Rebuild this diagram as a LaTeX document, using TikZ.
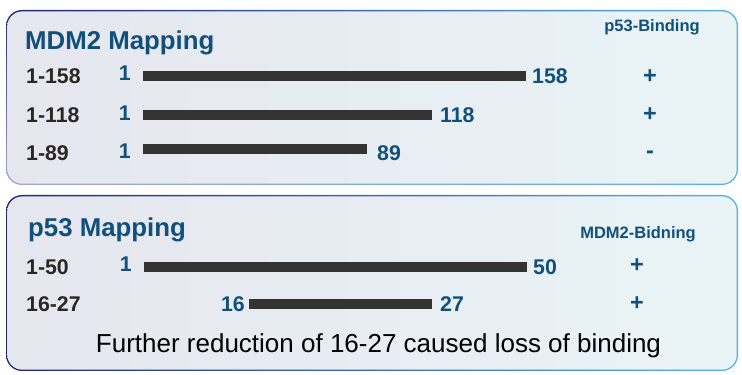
\documentclass[tikz,border=0pt]{standalone}
\usepackage{fontspec}
\setmainfont{Liberation Sans}
\usetikzlibrary{shadings}
\definecolor{ttl}{HTML}{11507A}
\definecolor{lbl}{HTML}{2A2724}
\definecolor{barc}{HTML}{333333}
\definecolor{bgl}{HTML}{E6E6EF}
\definecolor{bgr}{HTML}{E9F4F6}
\definecolor{navy}{HTML}{25257A}
\definecolor{lblue}{HTML}{5BB4E4}
\definecolor{lav}{HTML}{A8A8CC}
\tikzset{
  title/.style={font=\bfseries\fontsize{25.8}{25.8}\selectfont, text=ttl, anchor=west, inner sep=0pt},
  colhead/.style={font=\bfseries\fontsize{16.5}{16.5}\selectfont, text=ttl, anchor=center, inner sep=0pt},
  rowlbl/.style={font=\bfseries\fontsize{21.3}{21.3}\selectfont, text=lbl, anchor=west, inner sep=0pt},
  num/.style={font=\bfseries\fontsize{21.3}{21.3}\selectfont, text=ttl, inner sep=0pt},
  sign/.style={font=\bfseries\fontsize{23.5}{23.5}\selectfont, text=ttl, anchor=center, inner sep=0pt},
  barline/.style={draw=barc, line width=10pt},
}
\begin{document}
\begin{tikzpicture}[x=1pt,y=1pt]
\useasboundingbox (0,0) rectangle (742,375);
\fill[white] (0,0) rectangle (742,375);
% box 1
\shade[rounded corners=16pt, upper left=navy, upper right=lblue, lower left=lav, lower right=lblue] (6,190) rectangle (738,365);
\shade[rounded corners=15pt, left color=bgl, right color=bgr] (7.3,191.3) rectangle (736.7,363.6);
% box 2
\shade[rounded corners=16pt, left color=navy, right color=lblue] (6,4) rectangle (738,180);
\shade[rounded corners=15pt, left color=bgl, right color=bgr] (7.3,5.3) rectangle (736.7,178.6);

% MDM2 mapping
\node[title] (t1) at (25,332) {MDM2 Mapping};
\node[colhead] (h1) at (652,348) {p53-Binding};
\node[rowlbl] (l1) at (26,299) {1-158};
\node[rowlbl] (l2) at (26,260) {1-118};
\node[rowlbl] (l3) at (26,222) {1-89};
\node[num, anchor=east] (s1) at (131,302) {1};
\node[num, anchor=east] (s2) at (131,262) {1};
\node[num, anchor=east] (s3) at (131,224) {1};
\coordinate (b1a) at (143,299); \coordinate (b1b) at (526,299);
\coordinate (b2a) at (143,260); \coordinate (b2b) at (432,260);
\coordinate (b3a) at (143,225.5); \coordinate (b3b) at (367,225.5);
\draw[barline] (b1a) -- (b1b);
\draw[barline] (b2a) -- (b2b);
\draw[barline] (b3a) -- (b3b);
\node[num, anchor=west] (e1) at (532,299) {158};
\node[num, anchor=west] (e2) at (440,260) {118};
\node[num, anchor=west] (e3) at (377,222) {89};
\node[sign] (p1) at (650,298) {+};
\node[sign] (p2) at (650,260) {+};
\node[sign] (p3) at (650,220) {-};

% p53 mapping
\node[title] (t2) at (28,145) {p53 Mapping};
\node[colhead] (h2) at (638,141) {MDM2-Bidning};
\node[rowlbl] (m1) at (26,108) {1-50};
\node[rowlbl] (m2) at (26,71) {16-27};
\node[num, anchor=east] (q1) at (132,111) {1};
\node[num, anchor=east] (q2) at (245,71) {16};
\coordinate (c1a) at (144,107.5); \coordinate (c1b) at (527,107.5);
\coordinate (c2a) at (249,70.5); \coordinate (c2b) at (432,70.5);
\draw[barline] (c1a) -- (c1b);
\draw[barline] (c2a) -- (c2b);
\node[num, anchor=west] (f1) at (533,108) {50};
\node[num, anchor=west] (f2) at (440,71) {27};
\node[sign] (r1) at (637,109) {+};
\node[sign] (r2) at (637,71) {+};
\node[font=\fontsize{26}{26}\selectfont, text=black, inner sep=0pt] (note) at (378.5,29) {Further reduction of 16-27 caused loss of binding};
\end{tikzpicture}
\end{document}
